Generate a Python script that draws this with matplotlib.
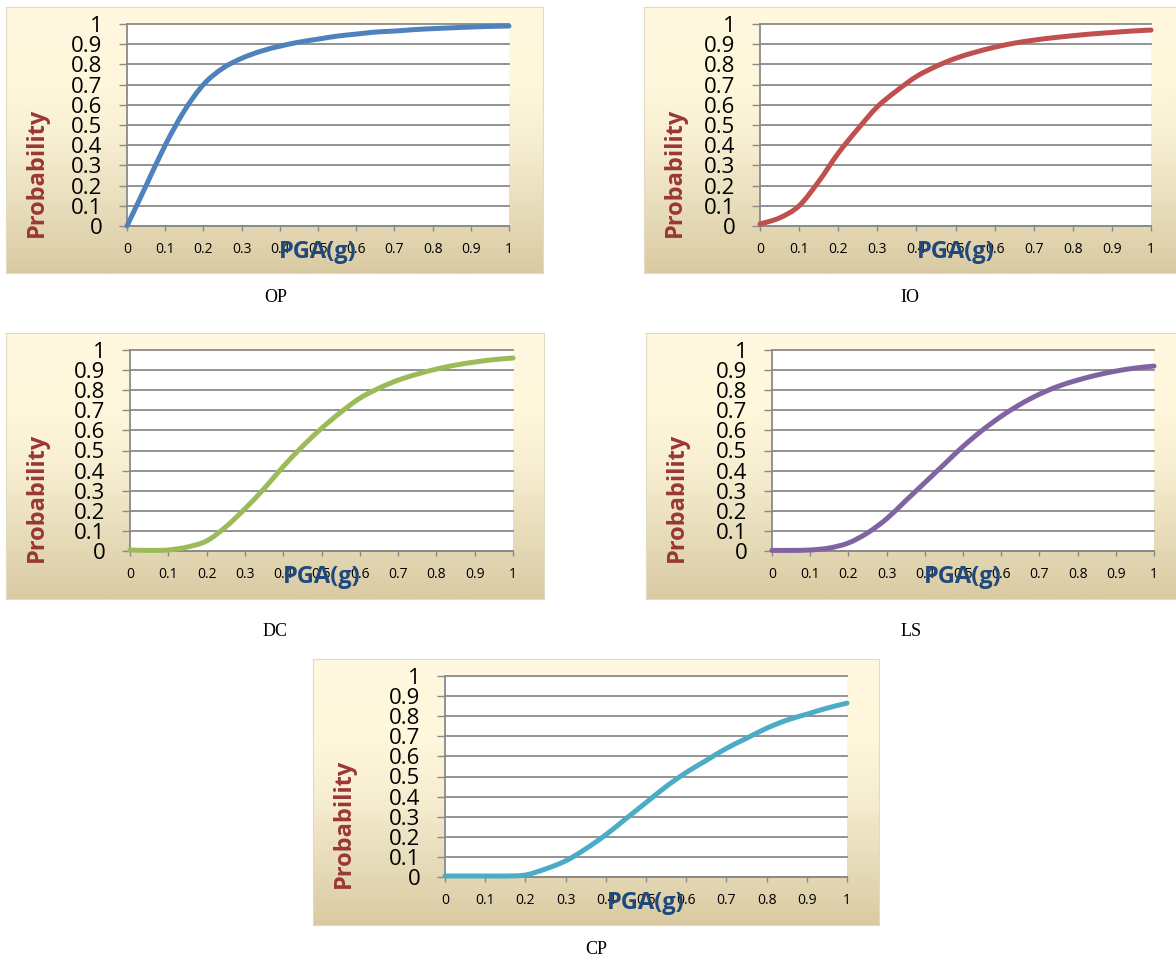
import numpy as np
import matplotlib
matplotlib.use("Agg")
import matplotlib.pyplot as plt
from matplotlib.colors import LinearSegmentedColormap
from matplotlib.path import Path
from matplotlib.patches import PathPatch

# ---------------- data ----------------
pga = [0.0, 0.05, 0.1, 0.15, 0.2, 0.25, 0.3, 0.35, 0.4, 0.45, 0.5,
       0.55, 0.6, 0.65, 0.7, 0.75, 0.8, 0.85, 0.9, 0.95, 1.0]

prob_op = [0.0, 0.20, 0.40, 0.57, 0.70, 0.78, 0.83, 0.865, 0.89, 0.91, 0.925,
           0.94, 0.95, 0.96, 0.965, 0.972, 0.977, 0.981, 0.985, 0.988, 0.99]
prob_io = [0.01, 0.04, 0.10, 0.22, 0.36, 0.48, 0.59, 0.67, 0.74, 0.79, 0.83,
           0.86, 0.885, 0.905, 0.92, 0.932, 0.942, 0.951, 0.958, 0.965, 0.97]
prob_dc = [0.005, 0.003, 0.005, 0.02, 0.05, 0.12, 0.21, 0.31, 0.42, 0.52, 0.61,
           0.69, 0.76, 0.81, 0.85, 0.88, 0.905, 0.925, 0.94, 0.952, 0.96]
prob_ls = [0.003, 0.003, 0.005, 0.015, 0.04, 0.09, 0.16, 0.25, 0.34, 0.43, 0.52,
           0.60, 0.67, 0.73, 0.78, 0.82, 0.85, 0.875, 0.895, 0.91, 0.92]
prob_cp = [0.005, 0.005, 0.005, 0.005, 0.01, 0.04, 0.08, 0.14, 0.21, 0.29, 0.37,
           0.45, 0.52, 0.58, 0.64, 0.69, 0.74, 0.78, 0.81, 0.84, 0.865]

x_ticks = [0, 0.1, 0.2, 0.3, 0.4, 0.5, 0.6, 0.7, 0.8, 0.9, 1]
x_tick_labels = ["0", "0.1", "0.2", "0.3", "0.4", "0.5", "0.6", "0.7", "0.8", "0.9", "1"]
y_ticks = [0, 0.1, 0.2, 0.3, 0.4, 0.5, 0.6, 0.7, 0.8, 0.9, 1]
y_tick_labels = ["0", "0.1", "0.2", "0.3", "0.4", "0.5", "0.6", "0.7", "0.8", "0.9", "1"]

captions = ["OP", "IO", "DC", "LS", "CP"]
series = [prob_op, prob_io, prob_dc, prob_ls, prob_cp]
colors = ["#4F81BD", "#C0504D", "#9BBB59", "#8064A2", "#4BACC6"]

# ---------------- layout (pixels) ----------------
W, H = 1176, 960
layout = [
    ((6, 543, 7, 273), (127, 509, 24, 226), (276, 297)),
    ((644, 1176, 7, 273), (760, 1151, 24, 226), (910, 297)),
    ((6, 544, 333, 599), (130, 513, 350, 551), (275, 631)),
    ((646, 1176, 333, 599), (772, 1154, 350, 551), (911, 631)),
    ((313, 879, 659, 925), (445, 847, 676, 877), (596, 950)),
]

fig = plt.figure(figsize=(W / 100, H / 100), dpi=100)
fig.patch.set_facecolor("white")


def rect(x0, x1, y0, y1):
    return [x0 / W, 1 - y1 / H, (x1 - x0) / W, (y1 - y0) / H]


def smooth_path(xs, ys):
    """Excel-style smoothed line: Catmull-Rom segments as cubic Beziers."""
    p = np.column_stack([xs, ys]).astype(float)
    ext = np.vstack([p[0], p, p[-1]])
    verts = [tuple(p[0])]
    codes = [Path.MOVETO]
    for i in range(len(p) - 1):
        p0, p1, p2, p3 = ext[i], ext[i + 1], ext[i + 2], ext[i + 3]
        c1 = p1 + (p2 - p0) / 6.0
        c2 = p2 - (p3 - p1) / 6.0
        verts += [tuple(c1), tuple(c2), tuple(p2)]
        codes += [Path.CURVE4] * 3
    return Path(verts, codes)


grad_cmap = LinearSegmentedColormap.from_list(
    "parch",
    [(0.0, "#D9CAA2"), (0.25, "#E8DDBB"), (0.5, "#F8EFD2"), (0.7, "#FFF7DB"), (1.0, "#FFF8DF")])
grad = np.linspace(0, 1, 256).reshape(-1, 1)

tick_font = "Open Sans"
grid_col = "#8A8A8A"

for (bg, pl, cap), vals, col, name in zip(layout, series, colors, captions):
    # background gradient
    bax = fig.add_axes(rect(*bg), zorder=0)
    bax.imshow(grad, aspect="auto", cmap=grad_cmap, origin="lower",
               extent=[0, 1, 0, 1], interpolation="bilinear")
    bax.set_xlim(0, 1); bax.set_ylim(0, 1)
    bax.set_xticks([]); bax.set_yticks([])
    for s in bax.spines.values():
        s.set_color("#E2DAC4"); s.set_linewidth(0.8)

    ax = fig.add_axes(rect(*pl), zorder=2)
    ax.set_facecolor("white")
    patch = PathPatch(smooth_path(pga, vals), facecolor="none", edgecolor=col,
                      lw=3.6, capstyle="round", joinstyle="round",
                      clip_on=False, zorder=5)
    ax.add_patch(patch)
    ax.set_xlim(0, 1)
    ax.set_ylim(0, 1)
    ax.set_xticks(x_ticks)
    ax.set_xticklabels(x_tick_labels, fontfamily=tick_font, fontsize=10)
    ax.set_yticks(y_ticks)
    ax.set_yticklabels(y_tick_labels, fontfamily=tick_font, fontsize=16)
    ax.tick_params(axis="y", direction="out", length=5.8, width=1.0,
                   color=grid_col, pad=12, labelcolor="black")
    ax.tick_params(axis="x", direction="out", length=3.6, width=1.0,
                   color=grid_col, pad=8, labelcolor="black")
    ax.grid(axis="y", color=grid_col, lw=1.3)
    ax.set_axisbelow(True)
    for gl in ax.get_ygridlines():
        gl.set_clip_on(False)
    for side in ("top", "right"):
        ax.spines[side].set_visible(False)
    for side in ("left", "bottom"):
        ax.spines[side].set_color(grid_col)
        ax.spines[side].set_linewidth(1.3)

    px0, px1, py0, py1 = pl
    fig.text((px0 + px1) / 2 / W, 1 - (py1 + 26) / H, "PGA(g)",
             ha="center", va="center", fontfamily="Open Sans", fontweight="bold",
             fontsize=17, color="#1F497D", zorder=10)
    fig.text((bg[0] + 31) / W, 1 - ((py0 + py1) / 2 + 47) / H, "Probability",
             ha="center", va="center", rotation=90, fontfamily="Open Sans",
             fontweight="bold", fontsize=17, color="#993735", zorder=10)
    fig.text(cap[0] / W, 1 - cap[1] / H, name, ha="center", va="center",
             fontfamily="Liberation Serif", fontsize=13, color="black")

fig.savefig("out.png", dpi=100, facecolor="white")
